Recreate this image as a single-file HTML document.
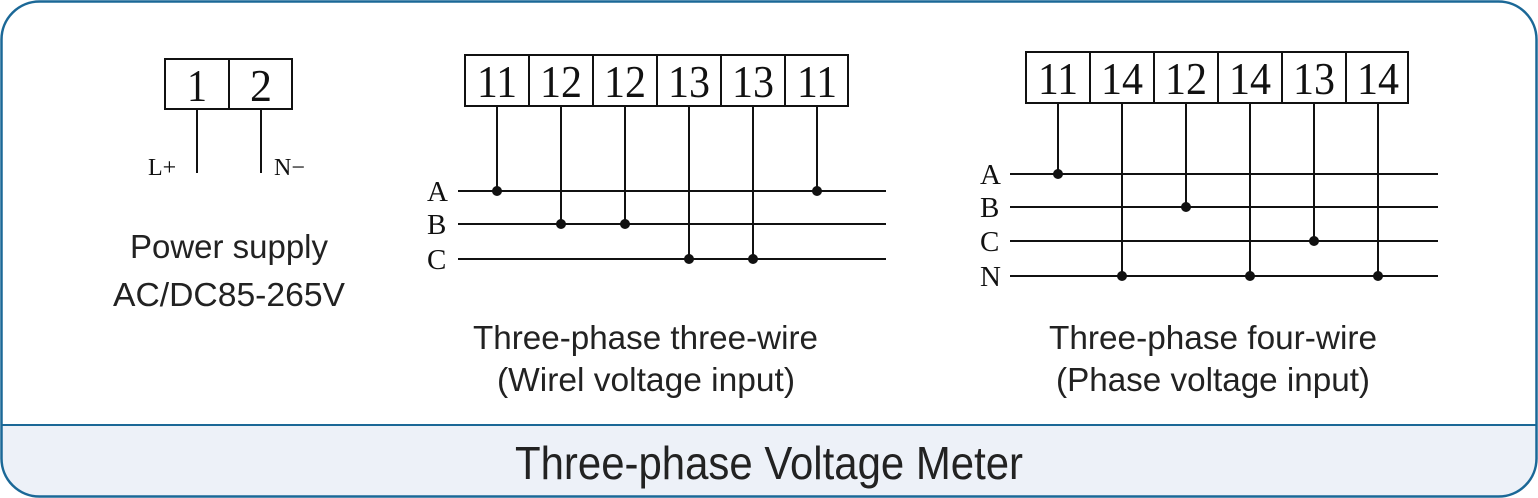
<!DOCTYPE html>
<html><head><meta charset="utf-8"><style>
html,body{margin:0;padding:0;background:#fff;}
svg{display:block;}
.s{font-family:"Liberation Serif",serif;fill:#111;}
.a{font-family:"Liberation Sans",sans-serif;fill:#222;}
</style></head><body>
<svg width="1538" height="498" viewBox="0 0 1538 498" xmlns="http://www.w3.org/2000/svg">
<path d="M1.5 425 V40 A38 38 0 0 1 39.5 1.5 H1498 A38 38 0 0 1 1536.5 40 V425 Z" fill="#fff"/>
<path d="M1.5 425 H1536.5 V458 A38 38 0 0 1 1498 496.5 H39.5 A38 38 0 0 1 1.5 458 Z" fill="#edf1f8"/>
<rect x="1.5" y="1.5" width="1535" height="495" rx="38" ry="38" fill="none" stroke="#1b6897" stroke-width="2.5"/>
<line x1="1.5" y1="425" x2="1536.5" y2="425" stroke="#1b6897" stroke-width="2"/>
<g stroke="#111" stroke-width="2" fill="none">
<rect x="165" y="59" width="127" height="50"/>
<line x1="229" y1="59" x2="229" y2="109"/>
<line x1="197" y1="109" x2="197" y2="173"/>
<line x1="261" y1="109" x2="261" y2="173"/>
<rect x="465" y="55" width="383" height="51"/>
<line x1="529" y1="55" x2="529" y2="106"/><line x1="593" y1="55" x2="593" y2="106"/>
<line x1="657" y1="55" x2="657" y2="106"/><line x1="721" y1="55" x2="721" y2="106"/>
<line x1="785" y1="55" x2="785" y2="106"/>
<line x1="458" y1="191" x2="886" y2="191"/>
<line x1="458" y1="224" x2="886" y2="224"/>
<line x1="458" y1="259" x2="886" y2="259"/>
<line x1="497" y1="106" x2="497" y2="191"/><line x1="561" y1="106" x2="561" y2="224"/>
<line x1="625" y1="106" x2="625" y2="224"/><line x1="689" y1="106" x2="689" y2="259"/>
<line x1="753" y1="106" x2="753" y2="259"/><line x1="817" y1="106" x2="817" y2="191"/>
<rect x="1026" y="52" width="382" height="51"/>
<line x1="1090" y1="52" x2="1090" y2="103"/><line x1="1154" y1="52" x2="1154" y2="103"/>
<line x1="1218" y1="52" x2="1218" y2="103"/><line x1="1282" y1="52" x2="1282" y2="103"/>
<line x1="1346" y1="52" x2="1346" y2="103"/>
<line x1="1010" y1="174" x2="1438" y2="174"/>
<line x1="1010" y1="207" x2="1438" y2="207"/>
<line x1="1010" y1="241" x2="1438" y2="241"/>
<line x1="1010" y1="276" x2="1438" y2="276"/>
<line x1="1058" y1="103" x2="1058" y2="174"/><line x1="1122" y1="103" x2="1122" y2="276"/>
<line x1="1186" y1="103" x2="1186" y2="207"/><line x1="1250" y1="103" x2="1250" y2="276"/>
<line x1="1314" y1="103" x2="1314" y2="241"/><line x1="1378" y1="103" x2="1378" y2="276"/>
</g>
<g fill="#111">
<circle cx="497" cy="191" r="5"/><circle cx="817" cy="191" r="5"/>
<circle cx="561" cy="224" r="5"/><circle cx="625" cy="224" r="5"/>
<circle cx="689" cy="259" r="5"/><circle cx="753" cy="259" r="5"/>
<circle cx="1058" cy="174" r="5"/><circle cx="1186" cy="207" r="5"/>
<circle cx="1314" cy="241" r="5"/>
<circle cx="1122" cy="276" r="5"/><circle cx="1250" cy="276" r="5"/><circle cx="1378" cy="276" r="5"/>
</g>
<g class="s" font-size="46" text-anchor="middle">
<text x="197" y="101" textLength="20" lengthAdjust="spacingAndGlyphs">1</text>
<text x="261" y="101" textLength="22" lengthAdjust="spacingAndGlyphs">2</text>
<text x="497" y="97" textLength="40" lengthAdjust="spacingAndGlyphs">11</text>
<text x="561" y="97" textLength="42" lengthAdjust="spacingAndGlyphs">12</text>
<text x="625" y="97" textLength="42" lengthAdjust="spacingAndGlyphs">12</text>
<text x="689" y="97" textLength="42" lengthAdjust="spacingAndGlyphs">13</text>
<text x="753" y="97" textLength="42" lengthAdjust="spacingAndGlyphs">13</text>
<text x="817" y="97" textLength="40" lengthAdjust="spacingAndGlyphs">11</text>
<text x="1058" y="94" textLength="40" lengthAdjust="spacingAndGlyphs">11</text>
<text x="1122" y="94" textLength="42" lengthAdjust="spacingAndGlyphs">14</text>
<text x="1186" y="94" textLength="42" lengthAdjust="spacingAndGlyphs">12</text>
<text x="1250" y="94" textLength="42" lengthAdjust="spacingAndGlyphs">14</text>
<text x="1314" y="94" textLength="42" lengthAdjust="spacingAndGlyphs">13</text>
<text x="1378" y="94" textLength="42" lengthAdjust="spacingAndGlyphs">14</text>
</g>
<g class="s" font-size="24">
<text x="148" y="175">L+</text><text x="274" y="175">N−</text>
</g>
<g class="s" font-size="29">
<text x="427" y="201">A</text><text x="427" y="234">B</text><text x="427" y="269">C</text>
<text x="980" y="184">A</text><text x="980" y="217">B</text><text x="980" y="251">C</text><text x="980" y="286">N</text>
</g>
<g class="a" font-size="33">
<text x="130" y="258" textLength="198" lengthAdjust="spacingAndGlyphs">Power supply</text>
<text x="113" y="306" textLength="232" lengthAdjust="spacingAndGlyphs">AC/DC85-265V</text>
<text x="473" y="349" textLength="345" lengthAdjust="spacingAndGlyphs">Three-phase three-wire</text>
<text x="497" y="391" textLength="298" lengthAdjust="spacingAndGlyphs">(Wirel voltage input)</text>
<text x="1049" y="349" textLength="328" lengthAdjust="spacingAndGlyphs">Three-phase four-wire</text>
<text x="1056" y="391" textLength="314" lengthAdjust="spacingAndGlyphs">(Phase voltage input)</text>
</g>
<text class="a" x="515" y="479" font-size="46" textLength="508" lengthAdjust="spacingAndGlyphs">Three-phase Voltage Meter</text>
</svg>
</body></html>
